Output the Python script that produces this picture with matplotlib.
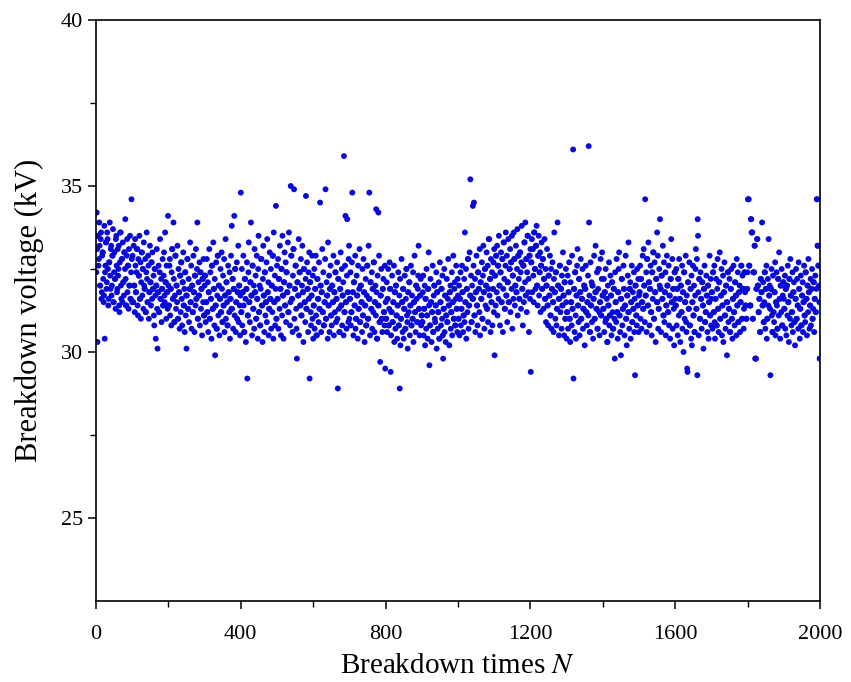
import numpy as np
import matplotlib.pyplot as plt

# ==============================
# 1. DATA (breakdown voltage in kV, 100 shots per list)
# ==============================
seg01 = [32.4, 34.2, 33.1, 30.3, 33.5, 33.5, 32.6, 32.8, 33.9, 33.2,
         32.0, 32.0, 33.4, 33.6, 31.6, 31.8, 32.9, 33.0, 33.0, 32.2,
         31.5, 31.7, 33.8, 30.4, 32.4, 32.6, 33.3, 33.3, 31.9, 32.1,
         33.6, 33.4, 32.5, 31.4, 31.6, 32.7, 32.7, 33.9, 32.3, 31.9,
         33.1, 33.2, 31.7, 32.0, 32.9, 32.9, 33.7, 31.5, 31.5, 32.4,
         33.0, 32.2, 32.2, 31.3, 33.4, 33.5, 32.6, 31.8, 31.9, 33.1,
         32.3, 32.5, 33.2, 31.4, 31.2, 32.7, 33.6, 33.6, 32.0, 31.6,
         32.8, 32.8, 31.5, 33.3, 32.1, 32.1, 31.7, 33.0, 33.0, 32.5,
         34.0, 32.2, 31.4, 31.4, 32.9, 33.4, 31.8, 32.6, 32.6, 31.3,
         33.1, 32.0, 32.0, 33.5, 31.6, 31.6, 32.4, 34.6, 32.8, 31.5]
seg02 = [32.9, 31.5, 31.5, 33.2, 32.0, 32.0, 31.2, 33.4, 32.6, 31.8,
         31.8, 32.4, 33.1, 33.1, 31.4, 31.1, 32.8, 32.3, 32.3, 33.5,
         31.6, 31.6, 32.7, 31.0, 32.1, 33.0, 33.0, 31.7, 32.5, 32.5,
         31.3, 33.3, 32.0, 31.9, 31.9, 32.8, 31.2, 31.2, 32.4, 33.6,
         32.2, 31.5, 31.5, 32.9, 32.6, 31.0, 31.8, 31.8, 33.2, 32.1,
         32.1, 31.4, 32.7, 32.7, 31.6, 33.0, 31.9, 31.9, 32.3, 31.1,
         30.8, 32.5, 32.5, 31.7, 30.4, 32.0, 32.0, 33.1, 31.3, 30.1,
         31.8, 31.8, 32.6, 31.2, 31.2, 32.4, 33.4, 31.6, 31.6, 32.2,
         30.9, 31.9, 31.9, 32.8, 31.4, 31.4, 32.3, 33.0, 31.7, 31.5,
         33.6, 32.1, 32.1, 31.0, 32.6, 31.8, 31.8, 31.3, 34.1, 32.0]
seg03 = [31.4, 31.4, 32.6, 32.8, 31.1, 31.9, 31.9, 30.8, 32.4, 33.1,
         33.1, 31.6, 31.6, 33.9, 32.2, 30.9, 30.9, 31.7, 32.9, 32.9,
         31.3, 32.0, 32.0, 31.5, 33.2, 31.0, 31.0, 32.5, 31.8, 31.8,
         30.7, 32.3, 32.3, 31.2, 32.7, 32.7, 31.6, 30.8, 32.1, 32.1,
         33.0, 31.4, 31.4, 31.9, 30.6, 32.4, 32.4, 31.1, 31.7, 30.1,
         31.7, 32.8, 32.8, 31.3, 31.3, 32.2, 30.9, 31.9, 31.9, 33.3,
         31.5, 31.5, 32.6, 30.7, 32.0, 32.0, 31.2, 31.2, 32.9, 31.8,
         31.8, 30.6, 32.3, 32.3, 31.4, 33.1, 31.6, 31.6, 32.5, 33.9,
         31.0, 31.0, 32.1, 31.7, 31.7, 32.7, 30.8, 32.4, 32.4, 31.3,
         31.9, 31.9, 30.5, 32.2, 32.2, 31.5, 32.8, 31.1, 31.1, 32.0]
seg04 = [32.3, 32.3, 30.9, 31.5, 31.5, 32.8, 31.2, 31.2, 32.1, 30.6,
         31.8, 31.8, 33.1, 31.0, 31.0, 32.4, 31.6, 31.6, 30.4, 32.6,
         32.6, 31.3, 31.3, 33.3, 31.9, 31.9, 30.8, 32.2, 29.9, 31.4,
         31.4, 32.7, 30.7, 30.7, 31.7, 32.9, 32.9, 31.1, 32.0, 32.0,
         30.5, 31.6, 31.6, 32.5, 31.2, 31.2, 33.0, 31.9, 30.9, 30.9,
         32.3, 31.4, 31.4, 32.8, 30.6, 31.7, 31.7, 33.4, 31.0, 32.1,
         32.1, 31.5, 30.8, 30.8, 32.6, 31.8, 31.8, 31.2, 32.4, 30.4,
         31.6, 31.6, 32.9, 31.3, 33.8, 31.3, 32.2, 32.2, 30.7, 31.9,
         31.9, 34.1, 31.1, 32.5, 32.5, 30.6, 31.5, 31.5, 32.7, 31.0,
         31.8, 31.8, 33.2, 30.9, 32.0, 32.0, 31.4, 30.5, 31.7, 34.8]
seg05 = [31.2, 31.2, 32.5, 30.8, 31.8, 31.8, 32.9, 31.4, 30.6, 30.6,
         32.2, 32.2, 31.6, 30.3, 31.9, 31.9, 32.7, 29.2, 31.1, 31.1,
         32.4, 33.3, 31.5, 31.5, 30.9, 32.1, 32.1, 33.9, 31.7, 31.7,
         30.5, 32.6, 32.6, 31.3, 31.3, 32.0, 30.7, 33.1, 31.8, 31.8,
         32.3, 31.0, 31.0, 32.9, 31.6, 31.6, 30.4, 32.5, 33.5, 31.2,
         31.2, 32.0, 30.8, 30.8, 31.9, 32.8, 32.8, 31.4, 31.4, 30.3,
         32.2, 33.2, 31.7, 31.7, 30.6, 32.4, 32.4, 31.1, 31.5, 31.5,
         32.7, 30.9, 33.4, 31.8, 31.8, 32.1, 30.5, 31.3, 31.3, 33.0,
         31.6, 31.6, 32.5, 30.7, 32.0, 32.0, 31.2, 32.9, 32.9, 30.4,
         33.6, 31.5, 31.5, 32.3, 30.8, 31.9, 34.4, 31.0, 31.0, 32.6]
seg06 = [31.6, 31.6, 32.8, 30.7, 32.2, 32.2, 31.3, 33.2, 31.9, 31.9,
         30.5, 32.5, 32.5, 31.1, 33.5, 31.7, 31.7, 30.4, 32.1, 32.1,
         33.0, 31.4, 31.4, 32.7, 30.9, 32.4, 32.4, 31.8, 31.8, 33.3,
         31.2, 31.2, 33.6, 32.0, 32.0, 30.8, 31.5, 35.0, 32.9, 32.9,
         31.6, 31.6, 30.6, 32.3, 33.1, 33.1, 34.9, 31.0, 31.9, 31.9,
         32.6, 32.6, 31.3, 30.7, 29.8, 32.1, 32.1, 31.7, 31.7, 33.4,
         30.5, 32.4, 32.4, 31.4, 31.4, 32.8, 31.1, 31.1, 32.0, 33.2,
         31.8, 31.8, 30.3, 32.5, 32.5, 31.5, 31.5, 30.9, 32.2, 34.7,
         31.3, 31.3, 32.7, 31.9, 31.9, 30.6, 32.4, 31.6, 33.0, 29.2,
         32.1, 32.1, 31.2, 30.8, 31.7, 31.7, 32.9, 31.0, 32.3, 30.4]
seg07 = [31.4, 31.4, 32.5, 30.7, 31.9, 31.9, 32.9, 31.1, 30.5, 30.5,
         32.2, 32.2, 31.6, 31.6, 30.9, 32.7, 31.3, 31.3, 34.5, 32.0,
         32.0, 30.6, 31.8, 31.8, 33.1, 31.2, 31.2, 32.4, 30.8, 30.8,
         31.5, 31.5, 32.8, 34.9, 31.0, 31.0, 32.1, 31.7, 31.7, 30.4,
         33.3, 31.4, 31.4, 32.3, 30.6, 31.9, 31.9, 32.6, 31.1, 31.1,
         30.8, 32.0, 32.0, 31.5, 31.5, 32.9, 30.5, 31.8, 31.8, 31.2,
         32.4, 32.4, 30.9, 31.6, 31.6, 32.7, 31.0, 28.9, 32.2, 32.2,
         31.3, 30.6, 30.6, 31.9, 31.9, 33.0, 31.4, 31.4, 32.5, 30.8,
         31.7, 31.7, 32.1, 30.5, 35.9, 31.2, 31.2, 32.6, 34.1, 31.5,
         31.5, 30.7, 32.3, 34.0, 31.8, 31.8, 30.9, 32.8, 33.2, 31.0]
seg08 = [31.6, 31.6, 32.4, 30.8, 31.2, 31.2, 32.7, 34.8, 31.8, 31.8,
         30.5, 32.1, 32.1, 31.4, 31.4, 32.9, 30.7, 31.0, 31.0, 32.3,
         31.7, 31.7, 30.4, 32.6, 31.3, 31.3, 31.9, 33.1, 30.9, 30.9,
         32.0, 32.0, 31.5, 31.5, 30.6, 32.5, 31.1, 31.1, 32.8, 31.8,
         31.8, 30.3, 31.4, 31.4, 32.2, 30.8, 30.8, 31.7, 32.6, 32.6,
         31.0, 31.0, 33.2, 31.6, 34.8, 31.6, 30.5, 32.1, 32.1, 31.3,
         31.3, 32.4, 30.7, 31.9, 31.9, 31.2, 32.7, 32.7, 30.6, 31.5,
         31.5, 32.0, 31.1, 34.3, 31.8, 30.4, 30.4, 32.3, 31.4, 34.2,
         31.4, 32.9, 30.9, 30.9, 29.7, 31.7, 31.7, 32.5, 31.0, 31.0,
         30.6, 31.9, 31.9, 32.2, 31.2, 31.2, 30.8, 32.6, 29.5, 31.5]
seg09 = [31.0, 31.0, 32.1, 30.6, 31.6, 31.6, 32.5, 30.8, 30.8, 31.3,
         32.7, 31.9, 31.9, 29.4, 30.5, 31.2, 31.2, 32.3, 30.9, 30.9,
         31.5, 31.5, 32.6, 30.3, 31.8, 31.8, 30.7, 32.0, 32.0, 31.1,
         31.1, 30.4, 31.4, 31.4, 32.4, 30.8, 30.8, 31.7, 28.9, 32.2,
         30.2, 31.0, 31.0, 32.8, 31.5, 31.5, 30.6, 31.9, 31.9, 30.4,
         31.3, 31.3, 32.3, 30.7, 30.7, 31.6, 32.5, 32.5, 31.1, 30.9,
         30.1, 31.8, 31.8, 31.2, 32.1, 32.1, 30.5, 31.4, 31.4, 32.6,
         30.8, 30.8, 31.7, 31.0, 31.0, 32.4, 30.3, 31.5, 31.5, 32.9,
         31.2, 31.2, 30.6, 32.0, 32.0, 31.6, 30.9, 30.9, 31.9, 32.3,
         33.2, 31.3, 31.3, 30.5, 31.7, 31.7, 32.2, 30.8, 31.1, 31.1]
seg10 = [30.9, 30.9, 31.8, 32.3, 30.5, 31.3, 31.3, 32.0, 30.2, 31.6,
         31.6, 30.7, 32.5, 31.1, 31.1, 30.4, 31.9, 31.9, 33.0, 31.4,
         29.6, 30.8, 30.8, 32.2, 31.5, 31.5, 30.3, 31.2, 31.2, 32.6,
         30.6, 30.6, 31.7, 32.0, 32.0, 31.0, 30.9, 31.4, 31.4, 32.4,
         30.1, 31.8, 31.8, 30.7, 31.2, 31.2, 32.1, 30.4, 30.4, 32.7,
         31.5, 31.5, 30.8, 31.9, 31.9, 31.0, 32.3, 30.5, 29.8, 31.3,
         31.3, 32.5, 30.6, 31.7, 31.7, 30.3, 31.1, 31.1, 32.2, 30.9,
         30.9, 31.6, 32.8, 31.4, 31.4, 30.2, 31.8, 31.8, 32.0, 30.7,
         31.2, 31.2, 32.4, 30.5, 31.5, 31.5, 32.9, 31.0, 31.0, 31.9,
         32.1, 30.8, 30.8, 31.6, 32.6, 31.3, 31.3, 30.6, 32.2, 31.7]
seg11 = [31.0, 31.0, 32.0, 30.5, 31.6, 31.6, 32.4, 30.8, 31.3, 31.3,
         32.6, 31.8, 31.8, 30.6, 31.1, 31.1, 32.2, 30.9, 33.6, 31.5,
         31.5, 32.5, 30.4, 31.9, 31.9, 31.2, 32.8, 32.8, 30.7, 31.4,
         31.4, 33.0, 31.7, 35.2, 31.7, 32.3, 30.9, 30.9, 32.0, 31.6,
         34.4, 31.6, 32.6, 34.5, 31.1, 31.1, 32.2, 30.6, 31.8, 31.8,
         32.9, 31.4, 31.4, 30.8, 32.4, 32.4, 31.9, 31.9, 31.2, 33.1,
         30.5, 32.1, 32.1, 31.6, 31.6, 32.7, 31.0, 31.0, 32.3, 33.2,
         31.8, 31.8, 30.7, 32.5, 32.5, 31.4, 32.0, 32.0, 33.0, 31.3,
         31.3, 32.6, 30.9, 31.9, 33.4, 33.4, 31.7, 32.2, 32.2, 30.6,
         32.8, 31.5, 31.5, 32.4, 30.8, 31.9, 31.9, 32.7, 31.2, 33.1]
seg12 = [29.9, 32.3, 32.3, 31.4, 32.9, 32.9, 31.8, 33.2, 31.1, 32.6,
         32.6, 31.6, 33.5, 32.0, 32.0, 30.8, 32.4, 32.4, 33.0, 31.5,
         31.5, 32.8, 32.8, 30.6, 31.9, 33.3, 33.3, 32.2, 31.3, 31.3,
         32.6, 33.6, 31.7, 31.7, 32.9, 30.9, 32.1, 32.1, 33.4, 31.5,
         31.5, 32.5, 32.5, 33.1, 31.2, 32.7, 32.7, 31.9, 33.5, 30.7,
         32.3, 32.3, 31.6, 33.6, 32.8, 32.8, 31.4, 32.0, 32.0, 33.2,
         31.8, 31.8, 32.5, 33.7, 31.1, 32.9, 32.9, 32.2, 31.6, 31.6,
         33.0, 33.0, 32.4, 31.3, 32.7, 33.8, 31.9, 31.9, 30.8, 32.6,
         32.6, 31.5, 33.3, 33.3, 32.1, 33.9, 31.7, 32.8, 32.8, 31.2,
         32.4, 33.5, 33.5, 31.8, 32.2, 30.6, 32.9, 32.9, 31.6, 33.1]
seg13 = [29.4, 32.7, 32.7, 33.4, 31.8, 33.1, 33.1, 32.3, 31.5, 33.6,
         33.6, 32.5, 32.5, 31.9, 33.2, 33.2, 33.8, 32.0, 32.0, 31.4,
         32.9, 32.9, 33.5, 31.7, 32.4, 32.4, 33.0, 31.2, 32.6, 32.6,
         33.3, 31.9, 31.9, 32.8, 32.8, 31.3, 32.2, 32.2, 33.4, 31.6,
         31.6, 32.5, 30.9, 32.0, 32.0, 33.1, 31.4, 31.4, 30.8, 32.3,
         32.3, 31.7, 31.7, 32.9, 31.1, 31.1, 32.5, 30.7, 31.9, 31.9,
         32.7, 31.5, 31.5, 30.6, 32.2, 33.6, 31.8, 31.8, 31.0, 32.4,
         32.4, 30.8, 31.3, 31.3, 33.9, 32.0, 32.0, 31.6, 30.5, 31.6,
         32.6, 32.6, 31.2, 31.9, 31.9, 30.7, 32.3, 31.4, 31.4, 33.0,
         31.7, 31.7, 30.5, 32.1, 32.1, 31.0, 31.0, 32.5, 31.5, 30.4]
seg14 = [31.2, 31.2, 32.3, 30.7, 31.8, 31.8, 32.7, 31.0, 31.0, 30.3,
         32.1, 31.5, 31.5, 30.8, 32.9, 31.3, 31.3, 36.1, 29.2, 31.9,
         31.9, 30.6, 32.4, 32.4, 31.1, 30.4, 31.7, 31.7, 32.6, 33.1,
         31.4, 31.4, 30.9, 32.2, 32.2, 30.5, 31.8, 31.8, 32.8, 31.0,
         31.0, 31.6, 31.6, 32.5, 30.7, 31.3, 31.3, 32.0, 32.0, 30.2,
         31.9, 31.9, 32.6, 31.2, 31.2, 30.8, 31.5, 31.5, 32.3, 31.1,
         36.2, 33.9, 31.7, 30.6, 30.6, 32.7, 31.4, 31.4, 32.1, 30.9,
         32.0, 32.0, 30.4, 31.6, 31.6, 32.9, 31.0, 31.0, 31.8, 33.2,
         31.8, 31.3, 31.3, 32.4, 30.7, 30.7, 31.9, 32.5, 32.5, 31.2,
         30.5, 31.5, 31.5, 32.8, 31.1, 31.1, 32.2, 33.0, 31.7, 31.7]
seg15 = [31.3, 31.3, 32.2, 30.6, 31.8, 31.8, 30.9, 32.5, 31.0, 31.0,
         31.6, 30.3, 30.3, 32.0, 31.4, 31.4, 32.7, 30.8, 31.1, 31.1,
         32.3, 31.7, 31.7, 30.5, 32.1, 32.1, 31.2, 30.7, 30.7, 31.9,
         31.9, 31.0, 29.8, 32.4, 31.5, 31.5, 30.9, 32.8, 31.2, 31.2,
         30.4, 31.8, 31.8, 32.5, 33.0, 31.1, 31.1, 30.6, 31.6, 29.9,
         31.6, 32.2, 32.2, 30.8, 31.3, 31.3, 32.6, 31.9, 31.9, 30.5,
         31.4, 31.4, 32.9, 31.0, 31.0, 30.2, 31.7, 31.7, 32.3, 31.2,
         33.3, 31.2, 30.7, 31.9, 31.9, 32.1, 30.4, 31.5, 31.5, 32.6,
         30.9, 30.9, 31.8, 31.3, 31.3, 32.4, 30.6, 31.6, 29.3, 32.0,
         32.0, 31.1, 31.1, 30.8, 32.5, 31.4, 31.4, 32.2, 30.6, 31.7]
seg16 = [31.8, 31.8, 32.6, 31.0, 32.2, 32.2, 30.7, 31.5, 31.5, 32.9,
         31.3, 31.3, 33.1, 32.0, 32.0, 30.9, 34.6, 31.7, 31.7, 32.4,
         30.6, 32.8, 32.8, 31.4, 31.4, 33.3, 32.1, 32.1, 30.8, 31.9,
         31.9, 32.6, 31.2, 31.2, 30.5, 32.4, 32.4, 31.6, 33.0, 33.0,
         31.0, 31.0, 32.7, 31.8, 31.8, 30.3, 32.2, 32.2, 31.5, 33.6,
         31.5, 32.9, 30.7, 31.3, 31.3, 32.5, 32.0, 34.0, 31.9, 31.9,
         30.6, 32.3, 32.3, 31.6, 31.6, 33.2, 31.1, 31.1, 32.7, 30.9,
         31.8, 31.8, 32.4, 30.5, 31.4, 31.4, 32.9, 32.0, 32.0, 31.2,
         31.2, 32.6, 30.8, 31.7, 31.7, 30.4, 32.2, 32.2, 33.4, 31.5,
         31.5, 32.8, 30.7, 31.9, 31.9, 31.3, 30.2, 32.4, 32.4, 31.6]
seg17 = [31.4, 31.4, 32.5, 30.8, 31.9, 31.9, 30.5, 32.2, 32.2, 31.1,
         32.8, 31.6, 31.6, 30.3, 32.0, 32.0, 31.2, 31.2, 32.6, 30.7,
         31.8, 31.8, 30.0, 32.4, 32.4, 31.0, 31.5, 31.5, 32.9, 30.9,
         30.6, 31.7, 29.5, 29.4, 32.1, 32.1, 31.3, 31.3, 32.7, 30.8,
         30.8, 31.9, 31.9, 30.4, 32.3, 30.2, 31.5, 31.5, 32.6, 31.1,
         31.1, 32.0, 30.6, 30.6, 31.7, 32.5, 33.1, 31.3, 31.3, 32.8,
         29.3, 34.0, 33.5, 31.8, 30.5, 32.2, 32.2, 31.0, 31.0, 32.4,
         31.6, 31.6, 30.7, 32.1, 32.1, 31.4, 31.4, 30.1, 31.9, 31.9,
         32.6, 30.9, 30.9, 31.2, 31.2, 32.3, 31.7, 31.7, 30.6, 32.0,
         32.0, 30.4, 31.5, 31.5, 32.9, 31.1, 31.1, 32.2, 30.8, 31.6]
seg18 = [31.8, 31.8, 30.7, 32.4, 32.4, 31.2, 31.2, 32.6, 30.9, 30.4,
         31.6, 31.6, 32.2, 30.8, 30.8, 31.9, 32.8, 31.3, 31.3, 30.6,
         32.1, 32.1, 33.0, 31.0, 31.0, 31.7, 31.7, 32.5, 30.5, 31.4,
         31.4, 32.3, 30.3, 31.8, 31.8, 32.7, 31.1, 31.1, 30.7, 32.0,
         32.0, 31.5, 29.9, 31.5, 32.4, 32.4, 30.9, 31.3, 31.3, 32.2,
         30.6, 30.6, 31.9, 31.9, 32.5, 31.0, 31.0, 30.4, 31.6, 31.6,
         32.6, 31.2, 31.2, 30.8, 32.1, 32.1, 31.7, 31.7, 30.5, 32.8,
         31.4, 31.4, 32.4, 30.9, 30.9, 31.8, 31.8, 32.0, 30.6, 31.5,
         31.5, 32.6, 32.6, 31.0, 31.0, 32.3, 31.9, 31.9, 30.7, 31.3,
         32.4, 32.4, 31.8, 31.4, 31.4, 31.0, 31.0, 31.9, 31.9, 32.4]
seg19 = [34.6, 34.6, 34.6, 32.6, 32.6, 31.4, 31.4, 31.4, 34.0, 34.0,
         33.6, 33.6, 33.6, 31.0, 31.0, 32.4, 32.4, 32.4, 33.2, 33.2,
         29.8, 29.8, 29.8, 31.9, 31.9, 33.4, 33.4, 32.0, 32.0, 31.2,
         31.2, 31.6, 31.6, 30.6, 30.6, 32.2, 32.2, 31.8, 31.8, 33.9,
         31.4, 31.4, 32.1, 30.9, 30.9, 31.5, 32.4, 32.4, 30.7, 31.9,
         31.9, 32.6, 30.4, 31.0, 31.0, 32.2, 31.4, 33.4, 31.7, 31.7,
         32.0, 31.3, 29.3, 31.9, 31.9, 32.5, 31.1, 30.6, 30.6, 32.3,
         31.2, 31.2, 30.9, 31.8, 31.8, 32.7, 30.5, 31.5, 31.5, 32.4,
         31.4, 30.7, 30.7, 32.2, 32.2, 31.1, 33.0, 31.6, 31.6, 30.4,
         32.0, 32.0, 31.2, 32.5, 30.8, 30.8, 31.7, 32.1, 32.1, 31.6]
seg20 = [31.3, 31.3, 32.3, 30.7, 31.9, 31.9, 30.5, 32.0, 32.0, 31.1,
         32.6, 31.5, 31.5, 30.3, 32.2, 32.2, 31.0, 32.8, 31.7, 31.7,
         30.8, 31.2, 31.2, 32.4, 30.6, 31.8, 31.8, 32.1, 30.9, 30.9,
         30.2, 31.6, 31.6, 32.5, 31.0, 31.0, 32.2, 31.4, 31.4, 30.7,
         32.7, 31.9, 31.9, 30.4, 31.3, 31.3, 32.3, 30.8, 30.8, 31.7,
         31.7, 32.1, 30.6, 31.5, 31.5, 32.6, 31.1, 31.1, 30.9, 32.4,
         32.4, 31.6, 31.6, 30.5, 32.0, 32.0, 31.2, 32.8, 31.8, 31.8,
         30.7, 31.4, 31.4, 32.2, 30.8, 31.9, 31.9, 32.5, 31.0, 31.0,
         31.3, 32.1, 32.1, 30.6, 31.6, 31.6, 32.3, 31.2, 31.2, 31.9,
         34.6, 34.6, 33.2, 33.2, 32.6, 32.6, 32.0, 31.5, 29.8, 29.8]

x_ticks = [0, 400, 800, 1200, 1600, 2000]
y_ticks = [25, 30, 35, 40]

voltage = np.concatenate([seg01, seg02, seg03, seg04, seg05, seg06, seg07,
                          seg08, seg09, seg10, seg11, seg12, seg13, seg14,
                          seg15, seg16, seg17, seg18, seg19, seg20])
shots = np.arange(1, len(voltage) + 1)

# ==============================
# 2. PLOT
# ==============================
plt.rcParams['font.family'] = ['Liberation Serif', 'DejaVu Serif']
plt.rcParams['mathtext.fontset'] = 'stix'

fig = plt.figure(figsize=(8.51, 6.82), dpi=100)
ax = fig.add_axes([0.1128, 0.1188, 0.8508, 0.8519])

ax.scatter(shots, voltage, s=18, color='#0a0ad8', edgecolors='none')

ax.set_xlim(0, 2000)
ax.set_ylim(22.5, 40)
ax.set_xticks(x_ticks)
ax.set_yticks(y_ticks)
ax.set_xticks(np.arange(200, 2000, 400), minor=True)
ax.set_yticks([27.5, 32.5, 37.5], minor=True)
ax.tick_params(which='major', direction='out', length=6, width=1.1, labelsize=16, colors='black')
ax.tick_params(which='minor', direction='out', length=4, width=1.0)
ax.tick_params(axis='x', which='major', pad=11)
ax.tick_params(top=False, right=False)
for sp in ax.spines.values():
    sp.set_linewidth(1.2)

ax.set_xlabel('Breakdown times $N$', fontsize=21, labelpad=7)
ax.set_ylabel('Breakdown voltage (kV)', fontsize=22, labelpad=12)

fig.savefig('out.png', dpi=100)
